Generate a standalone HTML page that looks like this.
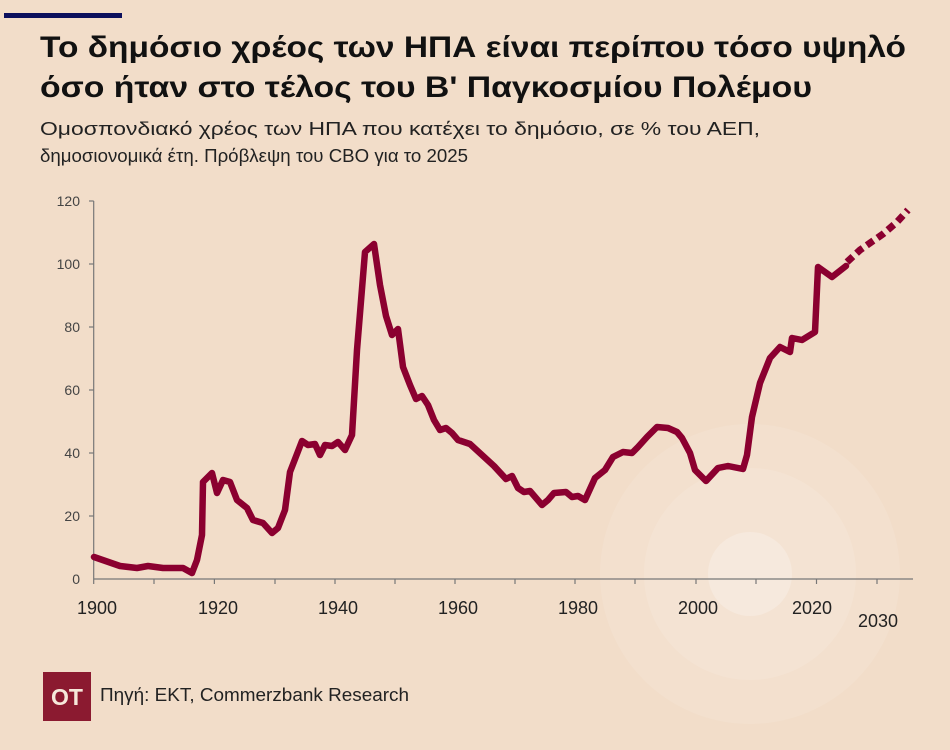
<!DOCTYPE html>
<html><head><meta charset="utf-8"><style>
html,body{margin:0;padding:0;background:#f2ddc9;}
svg{display:block;font-family:"Liberation Sans","DejaVu Sans",sans-serif;}
</style></head><body>
<svg width="950" height="750" viewBox="0 0 950 750" xmlns="http://www.w3.org/2000/svg">
<rect width="950" height="750" fill="#f2ddc9"/>
<circle cx="750" cy="574" r="150" fill="#f3e0ce"/>
<circle cx="750" cy="574" r="106" fill="#f4e3d3"/>
<circle cx="750" cy="574" r="42" fill="#f6e9dd"/>
<rect x="4" y="13" width="118" height="5" fill="#0c0f5c"/>
<text x="40" y="57" font-size="30" font-weight="bold" fill="#111" textLength="866" lengthAdjust="spacingAndGlyphs">Το δημόσιο χρέος των ΗΠΑ είναι περίπου τόσο υψηλό</text>
<text x="40" y="97" font-size="30" font-weight="bold" fill="#111" textLength="772" lengthAdjust="spacingAndGlyphs">όσο ήταν στο τέλος του Β' Παγκοσμίου Πολέμου</text>
<text x="40" y="135" font-size="18" fill="#222" textLength="720" lengthAdjust="spacingAndGlyphs">Ομοσπονδιακό χρέος των ΗΠΑ που κατέχει το δημόσιο, σε % του ΑΕΠ,</text>
<text x="40" y="162" font-size="18" fill="#222" textLength="428" lengthAdjust="spacingAndGlyphs">δημοσιονομικά έτη. Πρόβλεψη του CBO για το 2025</text>
<g stroke="#777" stroke-width="1.2" fill="none">
<line x1="93.7" y1="201" x2="93.7" y2="584"/>
<line x1="93.7" y1="579" x2="913" y2="579"/>
<line x1="89" y1="201" x2="93.7" y2="201"/><line x1="89" y1="264" x2="93.7" y2="264"/><line x1="89" y1="327" x2="93.7" y2="327"/><line x1="89" y1="390" x2="93.7" y2="390"/><line x1="89" y1="453" x2="93.7" y2="453"/><line x1="89" y1="516" x2="93.7" y2="516"/>
<line x1="154" y1="579" x2="154" y2="584"/><line x1="214.4" y1="579" x2="214.4" y2="584"/><line x1="275" y1="579" x2="275" y2="584"/><line x1="335" y1="579" x2="335" y2="584"/><line x1="395" y1="579" x2="395" y2="584"/><line x1="455" y1="579" x2="455" y2="584"/><line x1="515" y1="579" x2="515" y2="584"/><line x1="575" y1="579" x2="575" y2="584"/><line x1="635" y1="579" x2="635" y2="584"/><line x1="696" y1="579" x2="696" y2="584"/><line x1="756" y1="579" x2="756" y2="584"/><line x1="816.5" y1="579" x2="816.5" y2="584"/><line x1="877" y1="579" x2="877" y2="584"/>
</g>
<g font-size="14" fill="#444" text-anchor="end">
<text x="80" y="206">120</text><text x="80" y="269">100</text><text x="80" y="332">80</text><text x="80" y="395">60</text><text x="80" y="458">40</text><text x="80" y="521">20</text><text x="80" y="584">0</text>
</g>
<g font-size="18" fill="#222" text-anchor="middle">
<text x="97" y="614">1900</text><text x="218" y="614">1920</text><text x="338" y="614">1940</text><text x="458" y="614">1960</text><text x="578" y="614">1980</text><text x="698" y="614">2000</text><text x="812" y="614">2020</text><text x="878" y="627">2030</text>
</g>
<polyline fill="none" stroke="#8b0030" stroke-width="6.5" stroke-linejoin="round" stroke-linecap="round" points="94,557 120,566 137,568 148,566 163,568 183,568 192,573 197,560 202,535 203,482 212,473 217,493 223,480 230,482 237,500 247,508 253,520 263,523 272,533 278,528 285,510 290,472 302,441 308,445 315,444 320,455 325,445 332,446 338,442 345,450 352,435 357,350 365,252 374,244 380,285 386,316 392,335 398,329 403,367 410,385 416,399 422,396 428,405 434,420 440,430 446,428 452,433 458,440 470,444 482,455 494,466 506,479 512,476 518,488 524,492 530,491 542,505 548,500 554,493 566,492 572,497 578,496 585,500 595,478 605,470 613,457 623,452 632,453 638,447 647,437 657,427 668,428 677,432 682,438 690,453 695,470 706,481 718,468 728,466 743,469 747,455 752,417 760,383 770,358 780,347 790,352 792,338 802,340 815,332 818,267 832,277 846,266"/>
<polyline fill="none" stroke="#8b0030" stroke-width="7" stroke-dasharray="8,5" points="847,262 860,250 870,243 883,234 897,222 908,210"/>
<rect x="43" y="672" width="48" height="49" fill="#8b1a30"/>
<text x="67" y="705" font-size="23" font-weight="bold" fill="#f6e8da" text-anchor="middle">ΟΤ</text>
<text x="100" y="701" font-size="18" fill="#222" textLength="309" lengthAdjust="spacingAndGlyphs">Πηγή: EKT, Commerzbank Research</text>
</svg>
</body></html>
